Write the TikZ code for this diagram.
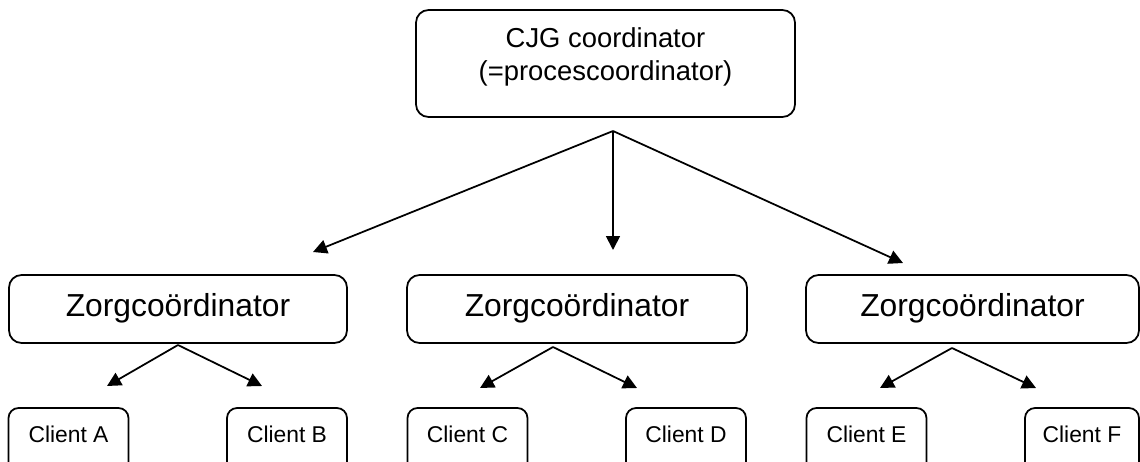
\documentclass[tikz,border=0pt]{standalone}
\usepackage{fontspec}
\setmainfont{Liberation Sans}
\usetikzlibrary{arrows.meta}
\tikzstyle{box} = [draw,line width=1pt,rounded corners=0.25cm,inner xsep=0pt,inner ysep=0pt]
\tikzstyle{care} = [box,minimum width=6.76cm,minimum height=1.36cm,text height=0.82cm,text depth=0.54cm,font=\fontsize{18.1pt}{21pt}\selectfont]
\tikzstyle{client} = [box,rounded corners=0.2cm,minimum width=2.4cm,text height=0.68cm,text depth=0.72cm,font=\fontsize{13pt}{15pt}\selectfont]
\tikzstyle{edge} = [draw,line width=1pt,-{Triangle[length=0.28cm,width=0.28cm]}]

\begin{document}
\begin{tikzpicture}[x=0.02cm,y=-0.02cm]
   \clip (0,0) rectangle (1140,461);
   \node[box,minimum width=7.58cm,align=center,text height=1.4cm,text depth=0.74cm,
     font=\fontsize{15.6pt}{18.7pt}\selectfont] (cjg) at (605.5,63.5) {CJG coordinator\\(=procescoordinator)};

   \node[care] (care1) at (178,309) {Zorgcoördinator};
   \node[care,minimum width=6.8cm] (care2) at (577,309) {Zorgcoördinator};
   \node[care,minimum width=6.66cm] (care3) at (972.5,309) {Zorgcoördinator};

   \node[client] (clientA) at (68.5,443) {Client A};
   \node[client] (clientB) at (287,443) {Client B};
   \node[client] (clientC) at (467.5,443) {Client C};
   \node[client] (clientD) at (686,443) {Client D};
   \node[client] (clientE) at (866.5,443) {Client E};
   \node[client,minimum width=2.28cm] (clientF) at (1082,443) {Client F};

   \coordinate (fork) at (613,131);
   \coordinate (in1) at (313,252);
   \coordinate (in2) at (613,250);
   \coordinate (in3) at (903,263);
   \coordinate (fork1) at (178,345);
   \coordinate (fork2) at (553,347);
   \coordinate (fork3) at (952,348);
   \coordinate (inA) at (107,386);
   \coordinate (inB) at (262,386);
   \coordinate (inC) at (480,388);
   \coordinate (inD) at (637,388);
   \coordinate (inE) at (880,388);
   \coordinate (inF) at (1036,388);

   \path[edge] (fork) -- (in1);
   \path[edge] (fork) -- (in2);
   \path[edge] (fork) -- (in3);
   \path[edge] (fork1) -- (inA);
   \path[edge] (fork1) -- (inB);
   \path[edge] (fork2) -- (inC);
   \path[edge] (fork2) -- (inD);
   \path[edge] (fork3) -- (inE);
   \path[edge] (fork3) -- (inF);
\end{tikzpicture}
\end{document}
